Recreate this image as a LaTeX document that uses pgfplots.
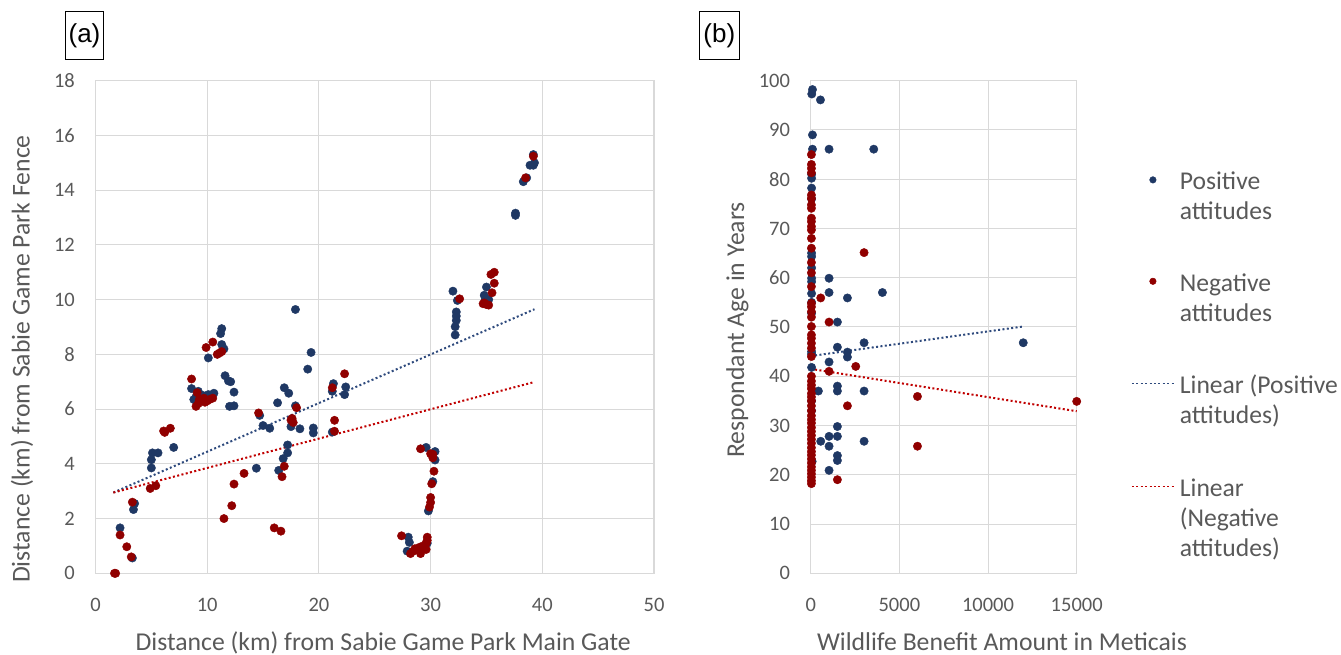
\documentclass[border=0pt]{standalone}
\usepackage{fontspec}
\setmainfont{Carlito}
\newfontfamily\arialfont{Liberation Sans}
\usepackage{pgfplots}
\pgfplotsset{compat=1.18}
\definecolor{pos}{HTML}{1F3864}
\definecolor{neg}{HTML}{900000}
\definecolor{posl}{HTML}{2E4A7D}
\definecolor{negl}{HTML}{C00000}
\definecolor{txt}{HTML}{595959}
\definecolor{gridc}{HTML}{D9D9D9}
\newcommand{\lent}[1]{\begin{tabular}[t]{@{}l@{}}#1\end{tabular}}
\pgfplotsset{
  dotlegend/.style={legend image code/.code={\path (0pt,-50.5pt) (42pt,50.5pt);\draw[##1, mark size=3.3pt] plot coordinates {(21pt,0pt)};}},
  linelegend/.style={legend image code/.code={\path (0pt,-50.5pt) (42pt,50.5pt);\draw[##1, line width=1.5pt] (0pt,0pt) -- (42pt,0pt);}},
  common/.style={
    scale only axis, anchor=south west, height=492.6pt, clip=false,
    grid=major, major grid style={draw=gridc, line width=1pt},
    axis line style={draw=gridc, line width=1.2pt},
    tick style={draw=none}, major tick length=0pt,
    /pgf/number format/assume math mode=true,
    /pgf/number format/1000 sep={},
    ticklabel style={font=\fontsize{20.5}{24}\selectfont, text=txt},
    yticklabel style={anchor=east, inner sep=0pt, xshift=-20.5pt},
    xticklabel style={anchor=base, inner sep=0pt, yshift=-38.2pt},
    label style={font=\fontsize{25.7}{30}\selectfont, text=txt, inner sep=0pt},
    posmark/.style={only marks, mark=*, mark size=4.2pt, mark options={draw=pos, fill=pos}},
    negmark/.style={only marks, mark=*, mark size=4.2pt, mark options={draw=neg, fill=neg}},
  },
}
\begin{document}
\begin{tikzpicture}
\path[use as bounding box] (0pt,0pt) rectangle (1341pt,654pt);
\node[draw, line width=1.3pt, minimum width=37.6pt, minimum height=47.6pt, inner sep=0pt, font=\arialfont\fontsize{26}{30}\selectfont] at (84.5pt,618.5pt) {(a)};
\node[draw, line width=1.3pt, minimum width=40pt, minimum height=47.6pt, inner sep=0pt, font=\arialfont\fontsize{26}{30}\selectfont] at (719.3pt,618.5pt) {(b)};
% ---------------- (a)
\begin{axis}[common, at={(95.5pt,80.7pt)}, width=558.5pt,
  xmin=0, xmax=50, ymin=0, ymax=18,
  xtick={0,10,20,30,40,50}, ytick={0,2,4,6,8,10,12,14,16,18},
  xlabel={Distance (km) from Sabie Game Park Main Gate},
  ylabel={Distance (km) from Sabie Game Park Fence},
  xlabel style={at={(axis description cs:0.515,0)}, anchor=base, yshift=-76.7pt},
  ylabel style={at={(axis description cs:0,0.435)}, anchor=center, yshift=73.5pt},
]
\addplot[posmark] coordinates {
(2.2,1.66)(3.3,0.56)(3.5,2.55)(3.4,2.33)(5.0,3.85)(5.0,4.15)(5.1,4.4)(5.6,4.4)(7.0,4.6)
(8.6,6.75)(8.8,6.35)(9.2,6.65)(9.6,6.5)(10.1,6.53)(10.6,6.58)(9.0,6.45)(10.1,7.87)
(11.3,8.94)(11.2,8.76)(11.3,8.36)(11.5,8.2)(11.6,7.22)(11.9,7.03)(12.1,7.0)(12.0,6.1)(12.4,6.12)(12.4,6.62)
(14.4,3.84)(14.7,5.77)(15.0,5.4)(15.6,5.3)(16.3,6.23)(16.4,3.76)(16.8,4.19)(17.2,4.4)(17.2,4.69)(16.9,6.78)(17.3,6.58)(17.5,5.36)(17.9,9.64)(17.9,6.12)(18.3,5.28)(19.0,7.46)(19.3,8.07)(19.5,5.31)(19.5,5.13)(21.2,5.16)(21.3,6.93)(21.2,6.65)(22.4,6.81)(22.3,6.53)
(28.0,1.32)(28.1,1.13)(27.9,0.81)(29.5,0.9)(29.7,1.1)(29.6,4.6)(30.4,4.45)(30.4,4.14)(30.2,3.35)(29.8,2.28)
(32.0,10.31)(32.4,9.97)(32.3,9.55)(32.3,9.4)(32.3,9.24)(32.2,9.01)(32.2,8.71)
(35.0,10.46)(34.8,10.16)(34.9,10.0)(35.2,10.0)(35.1,9.9)
(37.6,13.16)(37.6,13.08)(38.3,14.31)(38.6,14.45)(38.9,14.91)(39.2,14.91)(39.2,15.3)(39.3,15.0)
};
\addplot[negmark] coordinates {
(1.7,0)(1.8,0)(2.2,1.4)(2.8,0.97)(3.2,0.6)(3.3,2.6)(4.9,3.1)(5.4,3.2)(6.1,5.2)(6.2,5.15)(6.7,5.3)
(8.6,7.1)(9.0,6.1)(9.3,6.35)(9.7,6.4)(10.2,6.35)(10.5,6.4)(9.1,6.6)(9.4,6.3)(9.8,6.25)(9.2,6.2)(10.0,6.3)
(9.9,8.25)(10.5,8.45)(10.9,8.0)(11.3,8.1)(11.1,8.05)
(11.5,2.0)(12.2,2.47)(12.4,3.26)(13.3,3.65)(14.6,5.86)(16.0,1.66)(16.6,1.54)(16.7,3.53)(16.9,3.91)(17.6,5.66)(17.7,5.51)(17.5,5.6)(18.0,6.05)(21.4,5.19)(21.4,5.59)(21.2,6.78)(22.3,7.29)
(27.4,1.37)(28.2,0.72)(28.6,0.9)(28.9,0.84)(29.1,0.72)(29.3,1.0)(29.6,1.1)(29.7,1.32)(29.6,0.87)(28.4,0.8)(29.0,0.95)(29.7,1.2)
(29.1,4.55)(30.0,4.37)(30.2,4.22)(30.3,3.73)(30.1,3.27)(30.0,2.77)(30.0,2.59)(29.9,2.42)(30.2,4.35)
(32.6,10.03)(35.5,10.25)(35.7,10.6)(35.4,10.92)(35.7,11.0)(34.7,9.85)(35.2,9.8)(34.8,9.88)(35.0,9.82)
(38.5,14.45)(39.2,15.24)
};
\addplot[posl, line width=2pt, dash pattern=on 2pt off 2.4pt] coordinates {(1.6,2.95)(39.3,9.65)};
\addplot[negl, line width=2pt, dash pattern=on 2pt off 2.4pt] coordinates {(1.6,2.95)(39.2,6.98)};
\end{axis}
% ---------------- (b)
\begin{axis}[common, at={(810.7pt,80.7pt)}, width=266pt,
  xmin=0, xmax=15000, ymin=0, ymax=100,
  xtick={0,5000,10000,15000}, ytick={0,10,...,100},
  scaled x ticks=false,
  xlabel={Wildlife Benefit Amount in Meticais},
  ylabel={Respondant Age in Years},
  xlabel style={at={(axis description cs:0.719,0)}, anchor=base, yshift=-76.7pt},
  ylabel style={at={(axis description cs:0,0.494)}, anchor=center, yshift=73.2pt},
  legend style={at={(axis description cs:1.203,0.902)}, anchor=north west, draw=none, fill=none,
    inner sep=0pt, column sep=5pt,
    nodes={inner sep=0pt, font=\fontsize{25.6}{30}\selectfont, text=txt}},
  legend cell align=left,
]
\addplot[posmark, dotlegend] coordinates {
(100,98.2)(60,97.3)(550,96.1)(100,89)(100,86.1)(1035,86.1)(3556,86.1)(50,81)(50,80.2)(50,78.2)(50,76)(50,65)(50,64.3)(50,62)(50,59.9)(50,59.2)(50,56.8)(50,55)(50,52.8)(50,45)(50,44.5)(50,41.8)(50,35)(50,33)(80,22.7)
(1035,59.9)(1035,57)(2070,55.9)(4045,57)(1505,51)(1505,45.9)(2070,44.9)(2070,43.9)(1035,42.9)(3010,46.8)(11985,46.8)(433,37)(1505,38)(1505,37)(3010,37)(1505,29.8)(1035,27.8)(1505,27.8)(565,26.8)(3010,26.8)(1035,25.8)(1505,23.9)(1505,22.9)(1035,20.9)
};
\addlegendentry{\lent{Positive\\attitudes}}
\addplot[negmark, dotlegend] coordinates {
(40,85)(40,83)(40,82.2)(40,81.3)(40,76.8)(40,76.1)(40,74.8)(40,74.1)(40,72.1)(40,71.4)(40,70.4)(40,69.7)(40,68)(40,66)(40,63.1)(40,61)(40,58.2)(40,54.8)(40,54.1)(40,53.1)(40,52)(40,50.1)(40,48.4)(40,47.7)(40,46.7)(40,45.7)(40,44)
(40,40)(40,39)(40,38.2)(40,37.5)(40,36.5)(40,35.8)(40,35)(40,34)(40,33)(40,32)(40,31.2)(40,30.5)(40,29.6)(40,28.8)(40,28)(40,27.2)(40,26.4)(40,25.5)(40,24.7)(40,24)(40,23.2)(40,22.4)(40,21.6)(40,20.9)(40,20.2)(40,19.5)(40,18.8)(40,18.2)
(565,55.9)(1035,51)(1035,41)(2540,42)(2070,34)(1505,19)(3010,65.1)(6020,35.9)(6020,25.8)(15000,34.9)
};
\addlegendentry{\lent{Negative\\attitudes}}
\addplot[posl, line width=2pt, dash pattern=on 2pt off 2.4pt, linelegend] coordinates {(0,44.1)(11985,50.1)};
\addlegendentry{\lent{Linear (Positive\\attitudes)}}
\addplot[negl, line width=2pt, dash pattern=on 2pt off 2.4pt, linelegend] coordinates {(0,41.5)(15000,32.9)};
\addlegendentry{\lent{Linear\\(Negative\\attitudes)}}
\end{axis}
\end{tikzpicture}
\end{document}
